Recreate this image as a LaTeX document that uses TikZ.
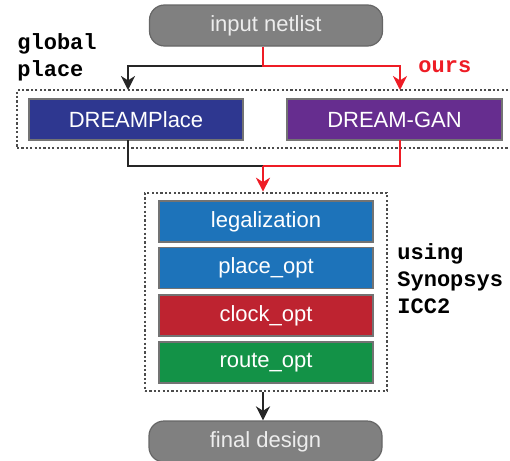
\documentclass[tikz,border=0pt]{standalone}
\usepackage{fontspec}
\setmainfont{Liberation Sans}
\newfontfamily\monob{Liberation Mono}[BoldFont={Liberation Mono Bold}]
\usetikzlibrary{arrows.meta}
\definecolor{netgray}{HTML}{808080}
\definecolor{dpblue}{HTML}{2E3790}
\definecolor{ganpurple}{HTML}{662D8F}
\definecolor{stepblue}{HTML}{1D73BA}
\definecolor{stepred}{HTML}{BE2330}
\definecolor{stepgreen}{HTML}{139247}
\definecolor{ourred}{HTML}{EE1C25}
\tikzset{
  term/.style={draw=black!60, line width=0.6pt, fill=netgray, rounded corners=7.5pt,
    minimum width=116.5pt, minimum height=20.5pt, inner sep=0pt, text=black!7, font=\fontsize{11}{13}\selectfont},
  stepbox/.style={draw=black!55, line width=0.6pt, minimum width=107pt, minimum height=20.5pt,
    inner sep=0pt, text=white, font=\fontsize{11}{13}\selectfont},
  dotbox/.style={draw=black!70, line width=1.3pt, dash pattern=on 1.1pt off 1.1pt},
  blk/.style={draw=black!85, line width=1pt},
  red/.style={draw=ourred, line width=1pt},
  tip/.style={-{Stealth[length=7pt,width=7pt,inset=2.2pt]}},
  lbl/.style={font=\monob\bfseries\fontsize{11}{13.5}\selectfont, align=left, anchor=north west, inner sep=0pt}
}
\begin{document}
\begin{tikzpicture}[x=0.5pt,y=-0.5pt]
\useasboundingbox (0,0) rectangle (510,461);
% dotted containers
\node[dotbox, minimum width=248pt, minimum height=29pt, inner sep=0pt] (gp) at (265,119) {};
\node[dotbox, minimum width=121pt, minimum height=99pt, inner sep=0pt] (icc) at (266,292) {};
% terminals
\node[term] (inp) at (266,25.5) {input netlist};
\node[term] (fin) at (265.5,441.5) {final design};
% global placers
\node[stepbox, fill=dpblue] (dp) at (136,119.5) {DREAMPlace};
\node[stepbox, fill=ganpurple, minimum width=107.5pt] (gan) at (394.5,119.5) {DREAM-GAN};
% ICC2 steps
\node[stepbox, fill=stepblue] (leg) at (266,221.5) {legalization};
\node[stepbox, fill=stepblue] (po) at (266,268) {place\_opt};
\node[stepbox, fill=stepred] (co) at (266,315.5) {clock\_opt};
\node[stepbox, fill=stepgreen] (ro) at (266,362.5) {route\_opt};
% labels
\node[lbl] (glab) at (17,33) {global\\place};
\node[lbl, text=ourred] (olab) at (418,60) {ours};
\node[lbl] (ulab) at (397,243) {using\\Synopsys\\ICC2};
% coordinates
\coordinate (f1) at (263,66);
\coordinate (tl) at (128,90);
\coordinate (tr) at (400,90);
\coordinate (bl) at (128,140);
\coordinate (br) at (400,140);
\coordinate (f2) at (263,166);
% connectors
\draw[blk, tip] (f1) -| (tl);
\draw[red, tip] (inp.south -| f1) -- (f1) -| (tr);
\draw[blk] (bl) |- (f2);
\draw[red] (br) |- (f2);
\draw[red, tip] (f2) -- (icc.north -| f2);
\draw[blk, tip] (icc.south -| f2) -- (fin.north -| f2);
\end{tikzpicture}
\end{document}
